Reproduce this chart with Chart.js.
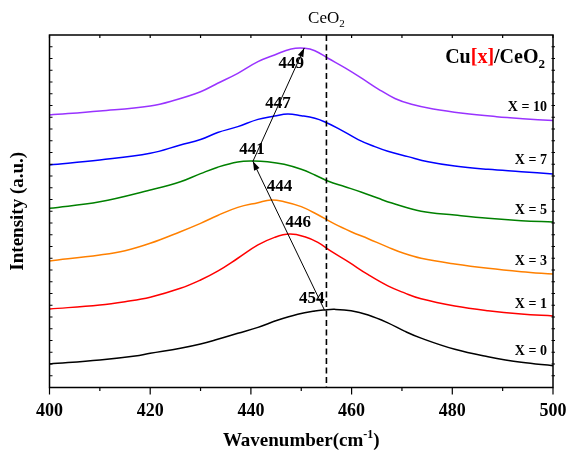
<!DOCTYPE html>
<html><head><meta charset="utf-8">
<script src="https://cdn.jsdelivr.net/npm/chart.js@4"></script>
<style>html,body{margin:0;padding:0;background:#fff}canvas{display:block}</style>
</head><body>
<canvas id="c" width="568" height="455"></canvas>
<script>
// ---- data ----
const wnX10 = [400,410,420,425,430,433.4,437.4,441.4,444.7,448,450.7,452.7,455.4,458.7,461.9,465.3,468.6,471.9,476.2,482.1,488.8,494,500];
const intX10 = [23.19,23.53,23.96,24.47,25.17,25.89,26.74,27.73,28.3,28.81,28.87,28.66,28.0,27.2,26.35,25.4,24.6,24.1,23.7,23.34,23.05,22.88,22.72];
const wnX7 = [400,410,420,426,430,433.4,437.4,441.4,444.7,447.3,450,452.7,454.6,457.3,461.3,464.6,467.2,471.2,475.2,480.5,487.1,493.7,500];
const intX7 = [18.94,19.36,19.93,20.64,21.1,21.7,22.2,22.82,23.1,23.28,23.13,22.91,22.62,22.06,21.1,20.5,20.1,19.65,19.22,18.85,18.57,18.37,18.17];
const wnX5 = [400,410,420,426,430,433.4,437.4,440.3,443.3,446.6,450,452.7,455.4,458.7,462,465.3,468,473.8,480.5,487.1,493.7,500];
const intX5 = [15.25,15.81,16.81,17.51,18.2,18.75,19.2,19.28,19.22,19.0,18.57,18.09,17.55,17.09,16.62,16.1,15.7,15.0,14.68,14.4,14.2,14.09];
const wnX3 = [400,410,415,420,426,430,433.4,437.4,441.4,444,446.6,450,453.3,456.6,459.9,463.3,467.2,470.5,473.8,480.5,487.1,493.7,500];
const intX3 = [10.77,11.28,11.64,12.27,13.26,13.97,14.64,15.33,15.73,15.96,15.81,15.39,14.7,13.92,13.26,12.66,11.95,11.4,11.0,10.51,10.14,9.86,9.66];
const wnX1 = [400,410,415,420,426,430,433.4,437.4,441.4,444.7,447.7,450.7,453.3,455.9,459.3,463.3,467.2,470.5,473.8,480.5,487.1,493.7,500];
const intX1 = [6.68,7.02,7.3,7.68,8.44,9.15,9.9,11.0,12.13,12.78,13.06,12.83,12.35,11.6,10.71,9.6,8.65,8.05,7.55,6.94,6.54,6.26,6.09];
const wnX0 = [400,410,417,420,426,430,433.4,437.4,441.4,445.4,449.3,452.7,454.6,456.6,459.9,463.3,467.2,470.5,473.8,480.5,487.1,493.7,500];
const intX0 = [2.0,2.34,2.68,2.91,3.34,3.7,4.1,4.61,5.12,5.74,6.23,6.51,6.6,6.65,6.54,6.17,5.5,4.8,4.2,3.25,2.62,2.14,1.86];

const seriesNames = ['X = 10','X = 7','X = 5','X = 3','X = 1','X = 0'];
const peakLabels = ['449','447','441','444','446','454'];
const xTicks = [400,420,440,460,480,500];
const ceo2Line = 455;
// arrow path (peak positions): black peak -> X=5 peak -> X=10 peak
const arrowWn = [454.6, 440.4, 450.6];
const arrowInt = [6.6, 19.25, 28.9];

// ---- styling / placement (not data) ----
const colors = ['#9933ff','#0000ff','#008000','#ff8000','#ff0000','#000000'];
const seriesLabelY = [23.84,19.36,15.11,10.77,7.08,3.05];
const peakLabelPos = [[448.0,27.55],[445.4,24.2],[440.2,20.25],[445.7,17.1],[449.4,14.05],[452.1,7.55]];

const xs = [wnX10,wnX7,wnX5,wnX3,wnX1,wnX0];
const ys = [intX10,intX7,intX5,intX3,intX1,intX0];
const datasets = seriesNames.map((n,i)=>({
  label:n,
  data: xs[i].map((v,j)=>({x:v,y:ys[i][j]})),
  borderColor: colors[i], borderWidth:1.5, pointRadius:0,
  tension:0.4, fill:false
}));

const F = 'Liberation Serif, Times New Roman, serif';

function arrowHead(ctx, x1,y1,x2,y2){
  const ang = Math.atan2(y2-y1,x2-x1), L=9, W=3;
  ctx.beginPath();
  ctx.moveTo(x2,y2);
  ctx.lineTo(x2-L*Math.cos(ang)+W*Math.sin(ang), y2-L*Math.sin(ang)-W*Math.cos(ang));
  ctx.lineTo(x2-L*Math.cos(ang)-W*Math.sin(ang), y2-L*Math.sin(ang)+W*Math.cos(ang));
  ctx.closePath(); ctx.fill();
}

const deco = {
  id:'deco',
  afterDatasetsDraw(chart){
    const {ctx, chartArea:a, scales:{x,y}} = chart;
    ctx.save();
    ctx.strokeStyle='#000'; ctx.fillStyle='#000';
    // reference dashed line
    const dx = x.getPixelForValue(ceo2Line);
    ctx.lineWidth=1.6; ctx.setLineDash([6,3.5]);
    ctx.beginPath(); ctx.moveTo(dx,a.top); ctx.lineTo(dx,a.bottom); ctx.stroke();
    ctx.setLineDash([]);
    // arrows
    ctx.lineWidth=1;
    const p = arrowWn.map((w,i)=>[x.getPixelForValue(w), y.getPixelForValue(arrowInt[i])]);
    ctx.beginPath(); ctx.moveTo(p[0][0],p[0][1]); ctx.lineTo(p[1][0],p[1][1]); ctx.stroke();
    arrowHead(ctx,p[0][0],p[0][1],p[1][0],p[1][1]);
    ctx.beginPath(); ctx.moveTo(p[1][0],p[1][1]); ctx.lineTo(p[2][0],p[2][1]); ctx.stroke();
    arrowHead(ctx,p[1][0],p[1][1],p[2][0],p[2][1]);
    // frame
    ctx.lineWidth=1.5;
    ctx.strokeRect(a.left,a.top,a.right-a.left,a.bottom-a.top);
    // ticks
    ctx.lineWidth=1.2;
    ctx.beginPath();
    for(let v=400; v<=500; v+=10){
      const px = x.getPixelForValue(v);
      const major = (v%20===0);
      ctx.moveTo(px,a.bottom); ctx.lineTo(px,a.bottom+(major?7:3.5));
      ctx.moveTo(px,a.top); ctx.lineTo(px,a.top+3);
    }
    for(let v=1; v<30; v++){
      const py = y.getPixelForValue(v);
      ctx.moveTo(a.left,py); ctx.lineTo(a.left+3,py);
      ctx.moveTo(a.right-1.5,py); ctx.lineTo(a.right+2,py);
    }
    ctx.stroke();
    // series labels
    ctx.font = 'bold 14px '+F; ctx.textAlign='right'; ctx.textBaseline='middle';
    seriesNames.forEach((n,i)=>{
      ctx.fillText(n, x.getPixelForValue(498.8), y.getPixelForValue(seriesLabelY[i]));
    });
    // peak labels
    ctx.font = 'bold 17px '+F; ctx.textAlign='center';
    peakLabels.forEach((t,i)=>{
      ctx.fillText(t, x.getPixelForValue(peakLabelPos[i][0]), y.getPixelForValue(peakLabelPos[i][1]));
    });
    // Cu[x]/CeO2 legend title
    ctx.textAlign='left'; ctx.textBaseline='alphabetic';
    ctx.font='bold 20px '+F;
    const parts=[['Cu','#000'],['[x]','#ff0000'],['/CeO','#000']];
    let total=0; parts.forEach(pp=>total+=ctx.measureText(pp[0]).width);
    ctx.font='bold 13px '+F; const subW=ctx.measureText('2').width;
    let cx = 545 - total - subW; const by = 63;
    ctx.font='bold 20px '+F;
    parts.forEach(pp=>{ctx.fillStyle=pp[1]; ctx.fillText(pp[0],cx,by); cx+=ctx.measureText(pp[0]).width;});
    ctx.fillStyle='#000'; ctx.font='bold 13px '+F; ctx.fillText('2',cx,by+5);
    // CeO2 top label
    ctx.font='17px '+F;
    const w1=ctx.measureText('CeO').width; ctx.font='11px '+F; const w2=ctx.measureText('2').width;
    let tx = dx-(w1+w2)/2;
    ctx.font='17px '+F; ctx.fillText('CeO',tx,23);
    ctx.font='11px '+F; ctx.fillText('2',tx+w1,27);
    // x axis title
    ctx.font='bold 19px '+F;
    const t1='Wavenumber(cm', t3=')';
    const a1=ctx.measureText(t1).width, a3=ctx.measureText(t3).width;
    ctx.font='bold 12px '+F; const a2=ctx.measureText('-1').width;
    let sx=(a.left+a.right)/2-(a1+a2+a3)/2; const sy=446;
    ctx.font='bold 19px '+F; ctx.fillText(t1,sx,sy);
    ctx.font='bold 12px '+F; ctx.fillText('-1',sx+a1,sy-8);
    ctx.font='bold 19px '+F; ctx.fillText(t3,sx+a1+a2,sy);
    ctx.restore();
  }
};

new Chart(document.getElementById('c'), {
  type:'line',
  data:{datasets},
  options:{
    responsive:false, animation:false, devicePixelRatio:1,
    layout:{padding:{left:0,right:15,top:35,bottom:0}},
    plugins:{legend:{display:false}, tooltip:{enabled:false}},
    scales:{
      x:{type:'linear', min:400, max:500,
        grid:{display:false}, border:{display:false},
        afterBuildTicks(s){ s.ticks = xTicks.map(v=>({value:v})); },
        ticks:{color:'#000', padding:5, maxRotation:0, autoSkip:false,
          font:{family:F, size:18, weight:'bold'}},
        afterFit(s){ s.height = 67.5; s.paddingLeft = 0; s.paddingRight = 0; }
      },
      y:{type:'linear', min:0, max:30,
        grid:{display:false}, border:{display:false},
        ticks:{display:false},
        title:{display:true, text:'Intensity (a.u.)', color:'#000', padding:{top:7,bottom:0},
          font:{family:F, size:19, weight:'bold'}},
        afterFit(s){ s.width = 49.5; s.paddingTop = 0; s.paddingBottom = 0; }
      }
    }
  },
  plugins:[deco]
});
</script>
</body></html>
